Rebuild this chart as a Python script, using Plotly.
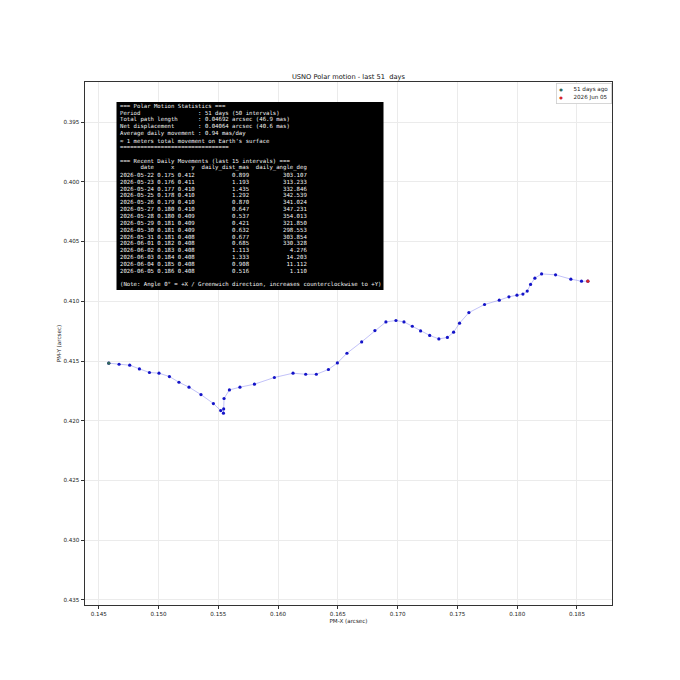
import plotly.graph_objects as go

# ---- data ----
pm_x = [0.14584, 0.14670, 0.14759, 0.14840, 0.14924, 0.15004, 0.15091, 0.15171, 0.15255, 0.15355,
        0.15459, 0.15520, 0.15543, 0.15545, 0.15548, 0.15593, 0.15681, 0.15802, 0.15969, 0.16125,
        0.16231, 0.16320, 0.16421, 0.16496, 0.16576, 0.16699, 0.16810, 0.16902, 0.16986, 0.17053,
        0.17123, 0.17192, 0.17268, 0.17345, 0.17416, 0.17468, 0.17518, 0.17596, 0.17727, 0.17850,
        0.17931, 0.17998, 0.18048, 0.18084, 0.18112, 0.18148, 0.18204, 0.18321, 0.18449, 0.18538,
        0.18591]
pm_y = [0.41518, 0.41527, 0.41535, 0.41566, 0.41596, 0.41602, 0.41630, 0.41678, 0.41719, 0.41781,
        0.41856, 0.41915, 0.41937, 0.41901, 0.41814, 0.41742, 0.41719, 0.41694, 0.41638, 0.41602,
        0.41611, 0.41611, 0.41571, 0.41516, 0.41435, 0.41340, 0.41245, 0.41173, 0.41161, 0.41173,
        0.41209, 0.41248, 0.41286, 0.41315, 0.41303, 0.41259, 0.41183, 0.41095, 0.41027, 0.40991,
        0.40963, 0.40949, 0.40940, 0.40915, 0.40859, 0.40807, 0.40771, 0.40779, 0.40815, 0.40832,
        0.40832]

tbl_dates = ["2026-05-22", "2026-05-23", "2026-05-24", "2026-05-25", "2026-05-26", "2026-05-27",
             "2026-05-28", "2026-05-29", "2026-05-30", "2026-05-31", "2026-06-01", "2026-06-02",
             "2026-06-03", "2026-06-04", "2026-06-05"]
tbl_x = [0.175, 0.176, 0.177, 0.178, 0.179, 0.180, 0.180, 0.181, 0.181, 0.181, 0.182, 0.183, 0.184, 0.185, 0.186]
tbl_y = [0.412, 0.411, 0.410, 0.410, 0.410, 0.410, 0.409, 0.409, 0.409, 0.408, 0.408, 0.408, 0.408, 0.408, 0.408]
tbl_dist = [0.899, 1.193, 1.435, 1.292, 0.870, 0.647, 0.537, 0.421, 0.632, 0.677, 0.685, 1.113, 1.333, 0.908, 0.516]
tbl_angle = [303.107, 313.233, 332.846, 342.539, 341.024, 347.231, 354.013, 321.850, 298.553, 303.854,
             330.328, 4.276, 14.203, 11.112, 1.110]

x_ticks = [0.145, 0.150, 0.155, 0.160, 0.165, 0.170, 0.175, 0.180, 0.185]
y_ticks = [0.395, 0.400, 0.405, 0.410, 0.415, 0.420, 0.425, 0.430, 0.435]

first_label = "51 days ago"
last_label = "2026 Jun 05"

# ---- layout geometry (window pixels; page body has an 8px margin) ----
OFF = 8
WIN = 680
W, H = WIN - 2 * OFF, WIN - 2 * OFF
AX_L, AX_R, AX_T, AX_B = 85, 612, 82, 605          # axes frame in window pixels
L, R, T, B = AX_L - OFF, WIN - OFF - AX_R, AX_T - OFF, WIN - OFF - AX_B
PW, PH = AX_R - AX_L, AX_B - AX_T

def px2paper_x(px):
    return (px - AX_L) / PW

def px2paper_y(py):
    return (AX_B - py) / PH

FONT = "DejaVu Sans, Liberation Sans, sans-serif"
MONO = "DejaVu Sans Mono, Liberation Mono, monospace"
FIRST_COLOR = "#34695a"
LAST_COLOR = "#d62728"
MSIZE = 3.2

fig = go.Figure()
fig.add_trace(go.Scatter(
    x=pm_x, y=pm_y, mode="lines+markers",
    line=dict(color="rgba(120,120,240,0.5)", width=0.9),
    marker=dict(color="#1414c8", size=MSIZE),
    showlegend=False, hoverinfo="skip"))
fig.add_trace(go.Scatter(
    x=[pm_x[0]], y=[pm_y[0]], mode="markers",
    marker=dict(color=FIRST_COLOR, size=MSIZE), name=first_label, showlegend=False))
fig.add_trace(go.Scatter(
    x=[pm_x[-1]], y=[pm_y[-1]], mode="markers",
    marker=dict(color=LAST_COLOR, size=MSIZE), name=last_label, showlegend=False))

axis_common = dict(
    showline=True, linecolor="#333333", linewidth=0.9, mirror=True,
    ticks="outside", ticklen=3.5, tickwidth=0.8, tickcolor="#333333",
    showgrid=True, gridcolor="#ebebeb", gridwidth=0.8,
    zeroline=False, tickformat=".3f",
    tickfont=dict(family=FONT, size=5.6, color="#222222"),
)
fig.update_xaxes(range=[0.14385, 0.18793], tickvals=x_ticks, **axis_common,
                 title=dict(text="PM-X (arcsec)", font=dict(family=FONT, size=5.6, color="#222222"), standoff=2))
fig.update_yaxes(range=[0.43542, 0.39165], tickvals=y_ticks, **axis_common,
                 title=dict(text="PM-Y (arcsec)", font=dict(family=FONT, size=5.6, color="#222222"), standoff=1))

# ---- statistics text box ----
NB = "\u00a0"
lines = [
    "=== Polar Motion Statistics ===",
    "Period                 : 51 days (50 intervals)",
    "Total path length      : 0.04692 arcsec (46.9 mas)",
    "Net displacement       : 0.04064 arcsec (40.6 mas)",
    "Average daily movement : 0.94 mas/day",
    "\u2248 1 meters total movement on Earth's surface",
    "=" * 32,
    "",
    "=== Recent Daily Movements (last 15 intervals) ===",
    f"{'date':>10} {'x':>5} {'y':>5}{'daily_dist_mas':>16}{'daily_angle_deg':>17}",
]
for d, xv, yv, dist, ang in zip(tbl_dates, tbl_x, tbl_y, tbl_dist, tbl_angle):
    lines.append(f"{d} {xv:.3f} {yv:.3f}{dist:16.3f}{ang:17.3f}")
lines.append("")
lines.append("(Note: Angle 0\u00b0 = +X / Greenwich direction, increases counterclockwise to +Y)")

box_l, box_t, box_r, box_b = 116.5, 102, 383.5, 290
fig.add_shape(type="rect", xref="paper", yref="paper",
              x0=px2paper_x(box_l), x1=px2paper_x(box_r),
              y0=px2paper_y(box_b), y1=px2paper_y(box_t),
              fillcolor="black", line=dict(width=0), layer="above")

annotations = []
first_line_y, pitch = 106.2, 6.86
for i, s in enumerate(lines):
    if not s:
        continue
    annotations.append(dict(
        xref="paper", yref="paper", x=px2paper_x(118), y=px2paper_y(first_line_y + pitch * i),
        xanchor="left", yanchor="middle", showarrow=False,
        text=s.replace(" ", NB),
        font=dict(family=MONO, size=5.65, color="#f4f4f4")))

# ---- legend (drawn as a boxed annotation) ----
dot = "<span style='font-size:4px;color:{c}'>\u25cf</span>"
leg_text = (dot.format(c=FIRST_COLOR) + NB * 6 + first_label.replace(" ", NB) + "<br>" +
            dot.format(c=LAST_COLOR) + NB * 6 + last_label.replace(" ", NB))
annotations.append(dict(
    xref="paper", yref="paper", x=px2paper_x(611.5), y=px2paper_y(83.5),
    xanchor="right", yanchor="top", showarrow=False, align="left",
    text=leg_text, bgcolor="white", bordercolor="#cccccc", borderwidth=0.8, borderpad=2.5,
    font=dict(family=FONT, size=5.6, color="#222222")))

fig.update_layout(
    width=W, height=H,
    margin=dict(l=L, r=R, t=T, b=B),
    paper_bgcolor="white", plot_bgcolor="white",
    title=dict(text="USNO Polar motion - last 51" + NB + NB + "days", x=0.5,
               xref="paper", xanchor="center", y=1 - (77 - OFF) / H, yref="container", yanchor="middle",
               font=dict(family=FONT, size=6.7, color="#111111")),
    annotations=annotations,
    showlegend=False,
)

fig.write_html("out.html")
